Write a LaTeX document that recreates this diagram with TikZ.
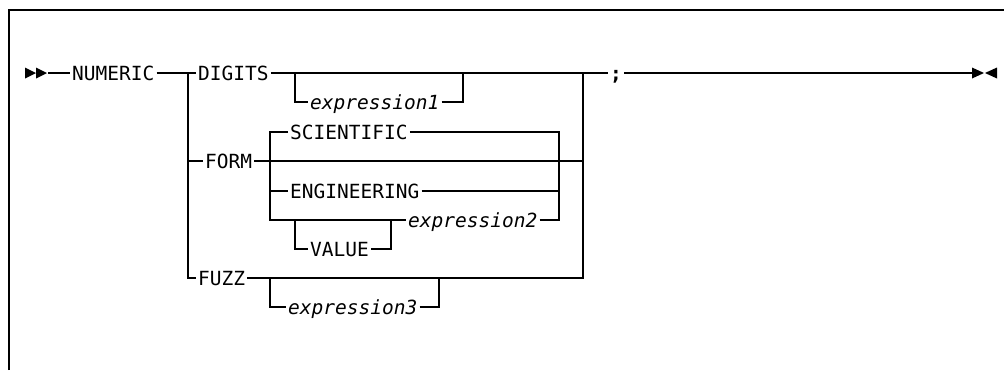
\documentclass[tikz,border=0pt]{standalone}
\usepackage{fontspec}
\newfontfamily\railfont{DejaVu Sans Mono}
\tikzset{
        kw/.style={
            font=\railfont\fontsize{19.5}{20}\selectfont,
            inner xsep=2pt, inner ysep=0pt,
            text height=14.3pt, text depth=0pt,
            anchor=west
        },
        var/.style={
            kw, font=\railfont\itshape\fontsize{19.5}{20}\selectfont
        },
        rail/.style={
            draw, line width=1.2pt
        },
        tip/.style={
            fill=black, draw=none
        }
    }

\begin{document}
\begin{tikzpicture}[x=1pt, y=-1pt]
    \useasboundingbox (0,0) rectangle (1004,370);
    \draw[rail] (9,370) |- (1004,10);

    \node[kw] (numeric) at (70,73) {NUMERIC};
    \node[kw] (digits) at (196,73) {DIGITS};
    \node[var] (expr1) at (308,102) {expression1};
    \node[kw] (sci) at (288,132) {SCIENTIFIC};
    \node[kw] (form) at (203,161) {FORM};
    \node[kw] (eng) at (288,191) {ENGINEERING};
    \node[var] (expr2) at (406,220) {expression2};
    \node[kw] (value) at (308,249) {VALUE};
    \node[kw] (fuzz) at (196,278) {FUZZ};
    \node[var] (expr3) at (286,307) {expression3};
    \node[kw] (semi) at (608,73) {\bfseries;};

    \coordinate (start) at (48,73);
    \coordinate (stop) at (972,73);
    \coordinate (a) at (188,73);
    \coordinate (d1) at (295,73);
    \coordinate (d2) at (463,73);
    \coordinate (r) at (583,73);
    \coordinate (f) at (270,161);
    \coordinate (j2) at (559,161);
    \coordinate (v1) at (295,220);
    \coordinate (v2) at (391,220);
    \coordinate (z1) at (270,278);
    \coordinate (z2) at (439,278);

    % start / end marks
    \path[tip] (25,67.5) -- (36,73) -- (25,78.5) -- cycle;
    \path[tip] (36,67.5) -- (47,73) -- (36,78.5) -- cycle;
    \path[tip] (972,67.5) -- (984,73) -- (972,78.5) -- cycle;
    \path[tip] (997,67.5) -- (985,73) -- (997,78.5) -- cycle;

    % main line
    \draw[rail] (start) -- (numeric.west);
    \draw[rail] (numeric.east) -- (digits.west);
    \draw[rail] (digits.east) -- (semi.west);
    \draw[rail] (semi.east) -- (stop);
    \draw[rail] (a) |- (form.west);
    \draw[rail] (a) |- (fuzz.west);

    % DIGITS
    \draw[rail] (d1) |- (expr1.west);
    \draw[rail] (expr1.east) -| (d2);

    % FORM
    \draw[rail] (form.east) -- (form.east -| r);
    \draw[rail] (sci.west) -| (f |- expr2) -- (expr2.west);
    \draw[rail] (f |- eng) -- (eng.west);
    \draw[rail] (sci.east) -| (j2);
    \draw[rail] (eng.east) -- (eng.east -| j2);
    \draw[rail] (expr2.east) -| (j2);
    \draw[rail] (v1) |- (value.west);
    \draw[rail] (value.east) -| (v2);

    % FUZZ
    \draw[rail] (fuzz.east) -| (r);
    \draw[rail] (z1) |- (expr3.west);
    \draw[rail] (expr3.east) -| (z2);

\end{tikzpicture}
\end{document}
